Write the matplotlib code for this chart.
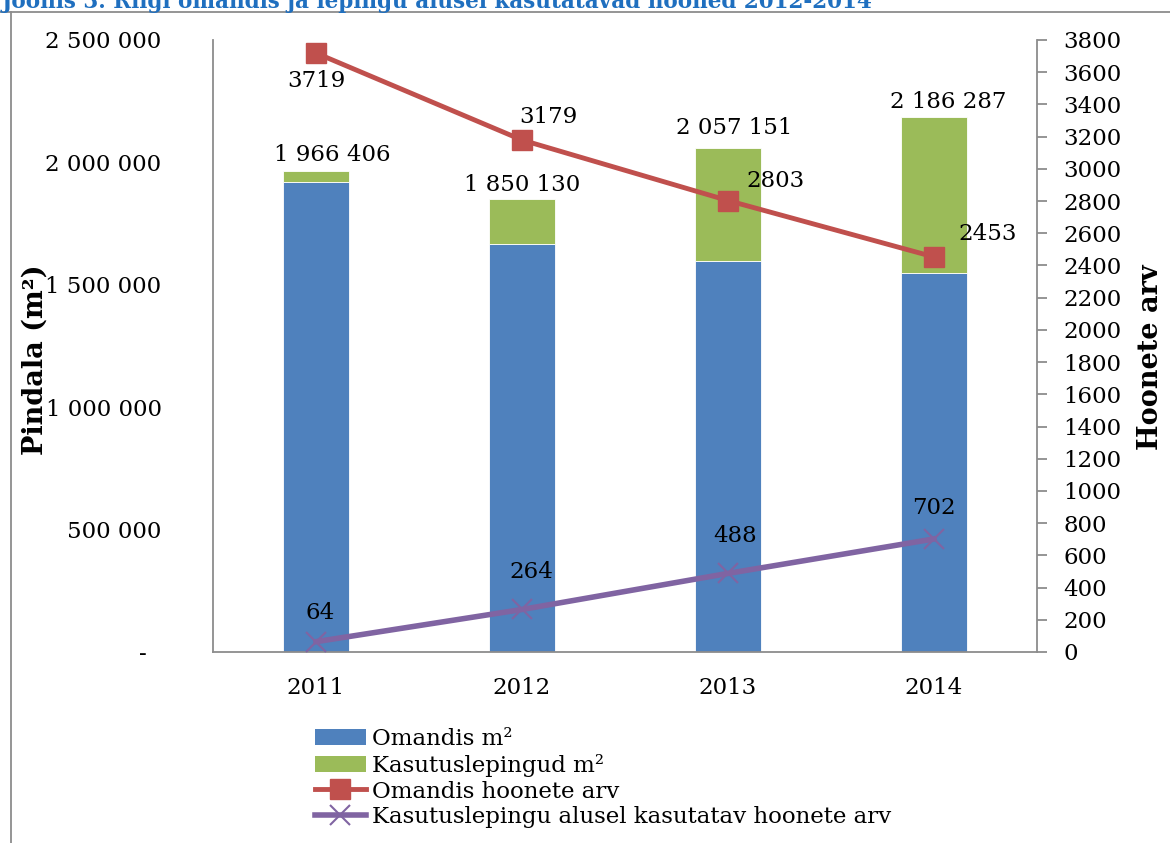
import matplotlib.pyplot as plt
from matplotlib.lines import Line2D
from matplotlib.patches import Patch

# Andmed
aastad = ['2011', '2012', '2013', '2014']
pind_kokku = [1966406, 1850130, 2057151, 2186287]
pind_omandis = [1920000, 1667000, 1597000, 1548000]
pind_leping = [k - o for k, o in zip(pind_kokku, pind_omandis)]
hooned_omandis = [3719, 3179, 2803, 2453]
hooned_leping = [64, 264, 488, 702]

vasak_ticks = [0, 500000, 1000000, 1500000, 2000000, 2500000]
vasak_sildid = ['-  ', '500 000', '1 000 000', '1 500 000', '2 000 000', '2 500 000']

sinine = '#4F81BD'
roheline = '#9BBB59'
punane = '#C0504D'
lilla = '#8064A2'
hall = '#8c8c8c'

plt.rcParams['font.family'] = 'DejaVu Serif'
fs = 16.5

fig = plt.figure(figsize=(11.7, 8.43), dpi=100)
ax = fig.add_axes([213/1170, 1 - 652/843, (1037-213)/1170, (652-40)/843])
ax2 = ax.twinx()

x = range(len(aastad))
laius = 0.32
ax.bar(x, pind_omandis, laius, color=sinine, edgecolor='white', linewidth=0.6, zorder=2)
ax.bar(x, pind_leping, laius, bottom=pind_omandis, color=roheline,
       edgecolor='white', linewidth=0.6, zorder=2)

ax.set_xlim(-0.5, 3.5)
ax.set_ylim(0, 2500000)
ax.set_yticks(vasak_ticks)
ax.set_yticklabels(vasak_sildid, fontsize=fs)
ax.tick_params(axis='y', length=0, pad=37)
ax.set_xticks(list(x))
ax.set_xticklabels(aastad, fontsize=fs)
ax.tick_params(axis='x', length=0, pad=18)

for s in ['top', 'right']:
    ax.spines[s].set_visible(False)
for s in ['left', 'bottom']:
    ax.spines[s].set_color(hall)
    ax.spines[s].set_linewidth(1.3)

# kogupinna sildid tulpade kohal (nihe x-s kategooriates, y-s ühikutes)
kogu_pos = [(0.08, 62000), (0.0, 58000), (0.03, 82000), (0.07, 62000)]
for i, v in enumerate(pind_kokku):
    dx, dy = kogu_pos[i]
    silt = f'{v:,}'.replace(',', ' ')
    ax.text(i + dx, v + dy, silt, ha='center', va='center', fontsize=fs, zorder=5)

# parempoolne telg
ax2.plot(x, hooned_omandis, color=punane, lw=3.5, marker='s', markersize=14, zorder=4)
ax2.plot(x, hooned_leping, color=lilla, lw=4, marker='x', markersize=15,
         markeredgewidth=1.5, zorder=4)
ax2.set_ylim(0, 3800)
ax2.set_yticks(range(0, 3801, 200))
ax2.tick_params(axis='y', labelsize=fs, length=7, width=1.3, color=hall, pad=12)
for s in ['top', 'left', 'bottom']:
    ax2.spines[s].set_visible(False)
ax2.spines['right'].set_color(hall)
ax2.spines['right'].set_linewidth(1.3)

# joonte väärtuste sildid
omandis_pos = [(0.0, -175), (0.13, 143), (0.23, 124), (0.26, 143)]
for i, v in enumerate(hooned_omandis):
    dx, dy = omandis_pos[i]
    ax2.text(i + dx, v + dy, str(v), ha='center', va='center', fontsize=fs, zorder=6)
leping_pos = [(0.02, 180), (0.045, 230), (0.035, 235), (0.0, 190)]
for i, v in enumerate(hooned_leping):
    dx, dy = leping_pos[i]
    ax2.text(i + dx, v + dy, str(v), ha='center', va='center', fontsize=fs, zorder=6)

# teljenimed
fig.text(35/1170, 1 - 360/843, 'Pindala (m²)', rotation=90, ha='center', va='center',
         fontsize=19.5, fontweight='bold')
fig.text(1150/1170, 1 - 357/843, 'Hoonete arv', rotation=90, ha='center', va='center',
         fontsize=19.5, fontweight='bold')

# pealkiri (ülemine serv jääb pildist välja)
fig.text(2/1170, 1 - 8/843, 'Joonis 3. Riigi omandis ja lepingu alusel kasutatavad hooned 2012-2014',
         ha='left', va='baseline', fontsize=15.5, fontweight='bold', color='#1F6FBF')

# raam
fig.add_artist(Line2D([0, 1], [1 - 12/843, 1 - 12/843], transform=fig.transFigure,
                      color=hall, lw=1.3))
fig.add_artist(Line2D([11/1170, 11/1170], [0, 1 - 12/843], transform=fig.transFigure,
                      color=hall, lw=1.3))

kasitsejad = [
    Patch(facecolor=sinine, label='Omandis m²'),
    Patch(facecolor=roheline, label='Kasutuslepingud m²'),
    Line2D([], [], color=punane, lw=3.5, marker='s', markersize=14, label='Omandis hoonete arv'),
    Line2D([], [], color=lilla, lw=4, marker='x', markersize=15, markeredgewidth=1.5,
           label='Kasutuslepingu alusel kasutatav hoonete arv'),
]
fig.legend(handles=kasitsejad, loc='upper left', bbox_to_anchor=(306/1170, 1 - 719/843),
           frameon=False, fontsize=fs, handlelength=2.2, handletextpad=0.3,
           labelspacing=0.16, borderaxespad=0)

fig.savefig('out.png', dpi=100)
